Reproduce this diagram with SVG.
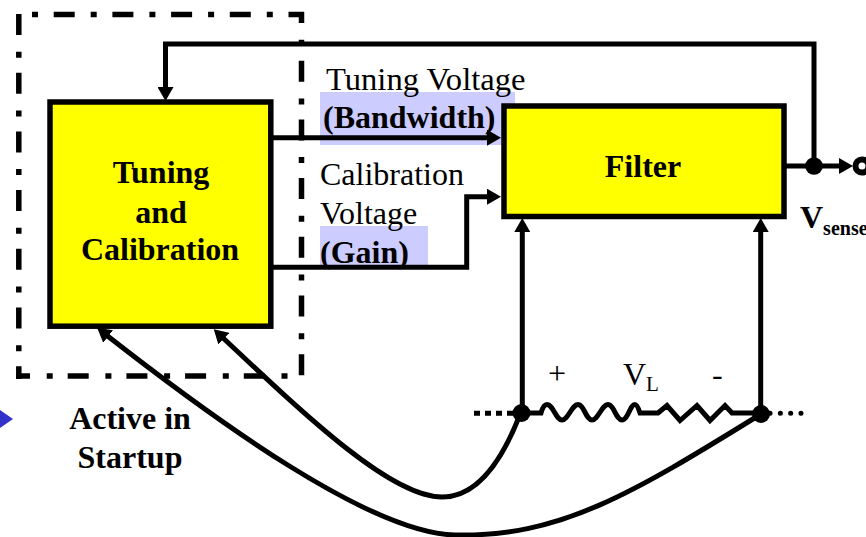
<svg xmlns="http://www.w3.org/2000/svg" width="866" height="537" viewBox="0 0 866 537">
<style>
.ln{fill:none;stroke:#000;stroke-width:5}
.box{fill:#ff0;stroke:#000;stroke-width:5.500}
.dash{fill:none;stroke:#000;stroke-width:5.500}
.hl{fill:#ccf}
text{font-family:"Liberation Serif","Times New Roman",serif;fill:#000}
.b{font-weight:bold;font-size:32px}
.r{font-size:32px}
</style>
<defs>
<marker id="ah" markerUnits="userSpaceOnUse" markerWidth="16" markerHeight="16" refX="4" refY="8" orient="auto"><path d="M0 0L14 8L0 16z" fill="#000"/></marker>
</defs>
<rect width="866" height="537" fill="#fff"/>
<g id="highlights">
<rect class="hl" x="320" y="92" width="195" height="53"/>
<rect class="hl" x="320" y="226" width="108" height="41"/>
</g>
<g id="startup-region">
<path class="dash" stroke-dasharray="6 15.700 21 16" d="M32 14.500H304"/>
<path class="dash" stroke-dasharray="21 16.700 6 15" stroke-dashoffset="10" d="M301.500 12V375.500"/>
<path class="dash" stroke-dasharray="21 16.700 6 15" d="M18.800 14V379"/>
<path class="dash" stroke-dasharray="21 16.700 6 15" stroke-dashoffset="7" d="M16 376H288"/>
</g>
<g id="connectors">
<path class="ln" d="M814 166V44H165.500V91" marker-end="url(#ah)"/>
<path class="ln" d="M273 137.700H491" marker-end="url(#ah)"/>
<path class="ln" d="M273 267.300H466.700V196.700H491" marker-end="url(#ah)"/>
<path class="ln" d="M786 166H843" marker-end="url(#ah)"/>
<path class="ln" d="M522.300 413V228" marker-end="url(#ah)"/>
<path class="ln" d="M760.700 414V228" marker-end="url(#ah)"/>
<path class="ln" d="M519 417C500 465 475 497 442 497C392 497 310 420 221 336" marker-end="url(#ah)"/>
<path class="ln" d="M761 414C630 495 560 537 455 535C370 533 215 420 105 334" marker-end="url(#ah)"/>
<path class="ln" stroke-width="5.500" d="M474 413.300H516" stroke-dasharray="6 5"/>
<path class="ln" d="M522 413H541C543 406 545 404.500 547 404.500C553 404.500 556 420 562 420C568 420 572 404.500 578 404.500C584 404.500 586 420 592 420C598 420 602 404.500 608 404.500C614 404.500 616 420 622 420C628 420 630 404.500 635 404.500C637 404.500 639 410 640 413H658L667 405.500L680 420.500L697 405.500L710 420.500L725 405.500L732 413H761"/>
<path class="ln" d="M770 413.300H804" stroke-linecap="round" stroke-dasharray="0.100 10.200"/>
</g>
<g id="tuning-calibration">
<rect class="box" x="50" y="102" width="220.800" height="224.200"/>
<text class="b" x="161" y="183" text-anchor="middle">Tuning</text>
<text class="b" x="161" y="223" text-anchor="middle">and</text>
<text class="b" x="160" y="260" text-anchor="middle">Calibration</text>
</g>
<g id="filter">
<rect class="box" x="504" y="106" width="280" height="110.500"/>
<text class="b" x="643" y="177" text-anchor="middle">Filter</text>
</g>
<g id="junctions">
<circle cx="814" cy="166" r="8.800"/>
<circle cx="521.500" cy="413" r="9"/>
<circle cx="761" cy="414" r="9"/>
<circle cx="862" cy="166" r="6.500" fill="#fff" stroke="#000" stroke-width="6"/>
</g>
<g id="labels">
<text class="r" x="326" y="90" font-size="32.600" style="font-size:32.600px">Tuning Voltage</text>
<text class="b" x="323" y="128">(Bandwidth)</text>
<text class="r" x="320" y="185">Calibration</text>
<text class="r" x="320" y="224">Voltage</text>
<text class="b" x="320" y="263">(Gain)</text>
<text class="b" x="800" y="228">V<tspan font-size="20" dy="7">sense</tspan></text>
<text class="r" x="548" y="384">+</text>
<text class="r" x="623" y="385">V<tspan font-size="21" dy="6">L</tspan></text>
<text class="r" x="712" y="385">-</text>
<text class="b" x="130" y="429" text-anchor="middle">Active in</text>
<text class="b" x="130" y="468" text-anchor="middle">Startup</text>
</g>
<path id="pointer" d="M0 410L13 419L0 428z" fill="#3333cc"/>
</svg>
